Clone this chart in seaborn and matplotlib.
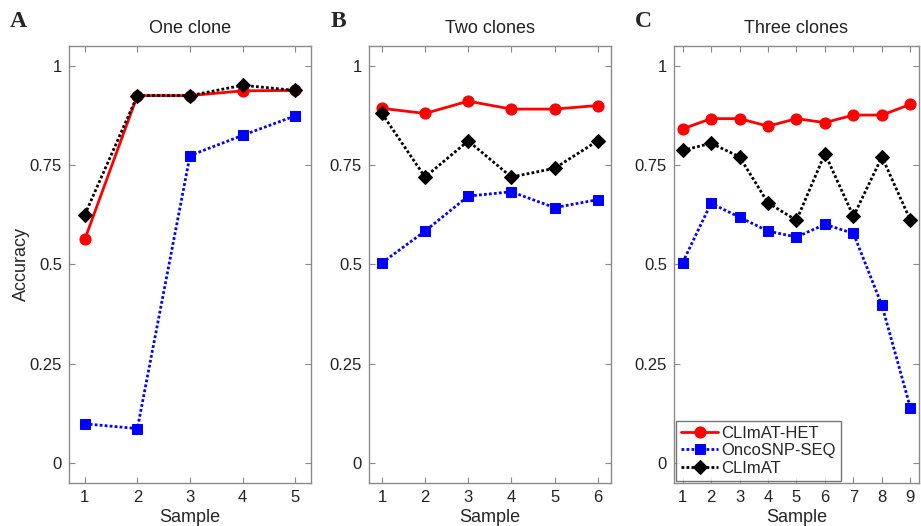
import numpy as np
import pandas as pd
import matplotlib
matplotlib.use("Agg")
import matplotlib.pyplot as plt
import seaborn as sns


# ------------------------------------------------------
# Data
# ------------------------------------------------------
panel_titles = ["One clone", "Two clones", "Three clones"]
panel_letters = ["A", "B", "C"]
method_names = ["CLImAT-HET", "OncoSNP-SEQ", "CLImAT"]

het_one = [0.563, 0.925, 0.925, 0.937, 0.938]
onco_one = [0.099, 0.087, 0.774, 0.825, 0.874]
climat_one = [0.625, 0.925, 0.925, 0.951, 0.938]

het_two = [0.893, 0.880, 0.911, 0.891, 0.891, 0.900]
onco_two = [0.504, 0.584, 0.672, 0.683, 0.643, 0.663]
climat_two = [0.880, 0.720, 0.811, 0.720, 0.742, 0.811]

het_three = [0.841, 0.867, 0.867, 0.848, 0.867, 0.857, 0.876, 0.876, 0.903]
onco_three = [0.504, 0.654, 0.619, 0.584, 0.569, 0.601, 0.578, 0.397, 0.139]
climat_three = [0.787, 0.805, 0.771, 0.655, 0.611, 0.779, 0.621, 0.771, 0.611]

panels = [
    [het_one, onco_one, climat_one],
    [het_two, onco_two, climat_two],
    [het_three, onco_three, climat_three],
]

y_ticks = [0, 0.25, 0.5, 0.75, 1]
y_tick_labels = ["0", "0.25", "0.5", "0.75", "1"]


# ------------------------------------------------------
# Style
# ------------------------------------------------------
sns.set_style("ticks")
plt.rcParams["font.family"] = ["Liberation Sans", "DejaVu Sans"]
plt.rcParams["axes.edgecolor"] = "#8a8a8a"
plt.rcParams["axes.linewidth"] = 1.0
plt.rcParams["xtick.color"] = "#8a8a8a"
plt.rcParams["ytick.color"] = "#8a8a8a"
plt.rcParams["xtick.labelcolor"] = "#222222"
plt.rcParams["ytick.labelcolor"] = "#222222"

styles = {
    "CLImAT-HET": dict(color="#ff0000", marker="o", dashes=(None, None), markersize=8),
    "OncoSNP-SEQ": dict(color="#0000ff", marker="s", dashes=(1.0, 0.8), markersize=7),
    "CLImAT": dict(color="#000000", marker="D", dashes=(1.0, 0.8), markersize=7),
}

fig = plt.figure(figsize=(9.21, 5.26), dpi=100)
ax_rects = [
    [0.0749, 0.0817, 0.2628, 0.831],
    [0.4006, 0.0817, 0.2624, 0.831],
    [0.7318, 0.0817, 0.2660, 0.831],
]
letter_x = [0.011, 0.359, 0.689]

for i, rect in enumerate(ax_rects):
    ax = fig.add_axes(rect)
    series = panels[i]
    n = len(series[0])
    samples = np.arange(1, n + 1)

    for name, vals in zip(method_names, series):
        df = pd.DataFrame({"Sample": samples, "Accuracy": vals})
        st = styles[name]
        line_kw = {}
        if st["dashes"][0] is not None:
            line_kw["dashes"] = st["dashes"]
        sns.lineplot(data=df, x="Sample", y="Accuracy", ax=ax,
                     color=st["color"], marker=st["marker"],
                     markersize=st["markersize"],
                     markeredgecolor=st["color"], linewidth=2,
                     label=name, legend=False, **line_kw)

    ax.set_xlim(0.7, n + 0.3)
    ax.set_ylim(-0.05, 1.05)
    ax.set_xticks(samples)
    ax.set_yticks(y_ticks)
    ax.set_yticklabels(y_tick_labels)
    ax.tick_params(direction="in", top=True, right=True, length=4,
                   labelsize=12, pad=5)
    ax.set_xlabel("Sample", fontsize=13, labelpad=3)
    if i == 0:
        ax.set_ylabel("Accuracy", fontsize=13, labelpad=0)
    else:
        ax.set_ylabel("")
    ax.set_title(panel_titles[i], fontsize=13, pad=9, color="#222222")
    for s in ax.spines.values():
        s.set_visible(True)

    fig.text(letter_x[i], 0.948, panel_letters[i],
             fontsize=17, fontweight="bold",
             family=["Liberation Serif", "DejaVu Serif"])

    if i == 2:
        leg = ax.legend(loc="lower left", fontsize=12, frameon=True,
                        fancybox=False, borderpad=0.3, labelspacing=0.15,
                        handlelength=2.2, handletextpad=0.2,
                        borderaxespad=0.15)
        leg.get_frame().set_edgecolor("#555555")
        leg.get_frame().set_linewidth(1.0)

fig.savefig("out.png", dpi=100)
